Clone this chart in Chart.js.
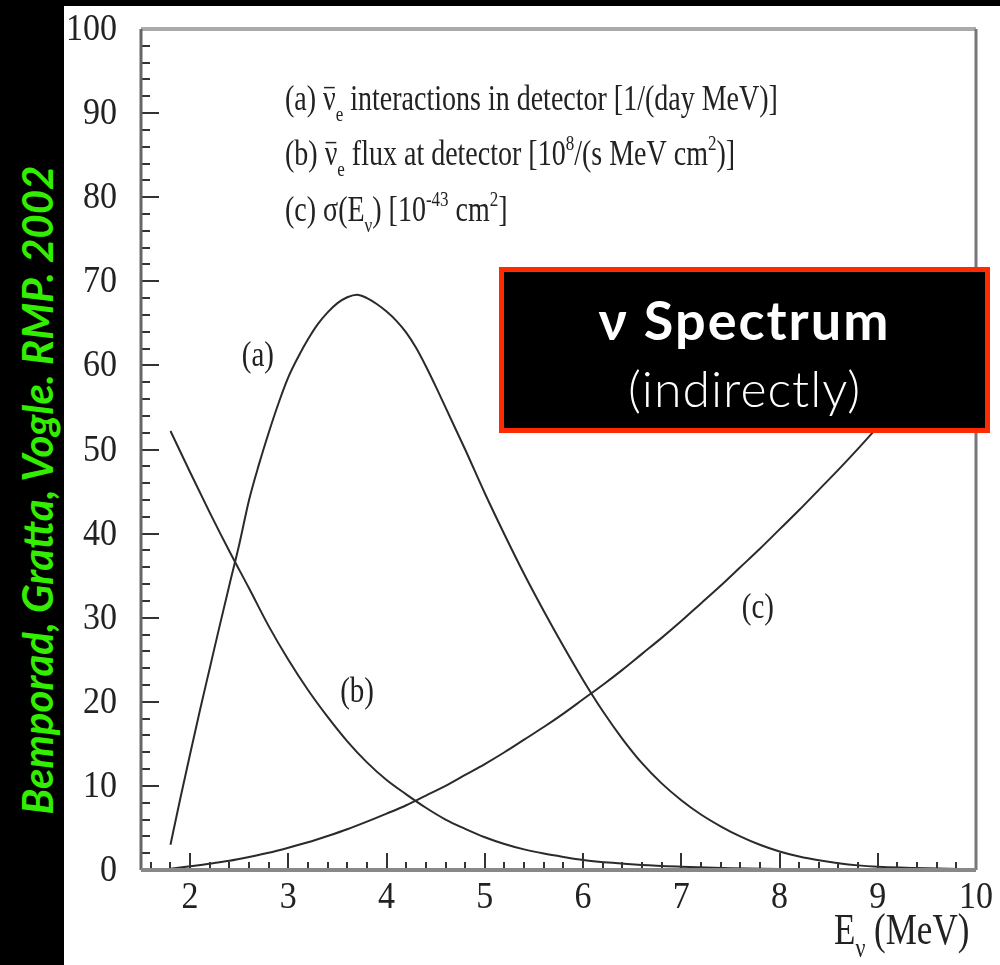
<!DOCTYPE html>
<html>
<head>
<meta charset="utf-8">
<script src="https://cdn.jsdelivr.net/npm/chart.js@4.4.1/dist/chart.umd.min.js"></script>
<style>
  html, body { margin: 0; padding: 0; background: #000; }
  body { width: 1000px; height: 965px; position: relative; overflow: hidden; }
  #plot { position: absolute; left: 64px; top: 6px; width: 936px; height: 959px; background: #fff; }
  #cite {
    position: absolute; left: 37px; top: 490px;
    transform: translate(-50%, -50%) rotate(-90deg);
    white-space: nowrap; color: #33ee00;
    font-family: Lato, "Open Sans", sans-serif; font-style: italic; font-weight: 700;
    font-size: 42px;
  }
  #tag {
    position: absolute; left: 499px; top: 267px; width: 481px; height: 156px;
    background: #000; border: 5px solid #ff2a00; color: #fff;
    font-family: Lato, "Open Sans", sans-serif; text-align: center;
  }
  #tag .t1 { font-weight: 700; font-size: 54px; letter-spacing: 2px; margin-top: 18px; line-height: 60px; }
  #tag .t2 { font-weight: 300; font-size: 50px; letter-spacing: 1px; margin-top: 8px; line-height: 60px; }
</style>
</head>
<body>
<div id="plot"><canvas id="spectrum" width="936" height="959"></canvas></div>
<div id="cite">Bemporad, Gratta, Vogle. RMP. 2002</div>
<div id="tag"><div class="t1">ν Spectrum</div><div class="t2">(indirectly)</div></div>
<script>
// neutrino energy (MeV) and the three curves
const energyA = [1.8, 1.9, 2.0, 2.1, 2.2, 2.3, 2.4, 2.5, 2.6, 2.7, 2.8, 2.9, 3.0, 3.1, 3.2, 3.3, 3.4, 3.5, 3.6, 3.7, 3.8, 3.9, 4.0, 4.1, 4.2, 4.3, 4.4, 4.5, 4.6, 4.7, 4.8, 5.0, 5.2, 5.4, 5.6, 5.8, 6.0, 6.2, 6.4, 6.6, 6.8, 7.0, 7.2, 7.4, 7.6, 7.8, 8.0, 8.2, 8.4, 8.6, 8.8, 9.0, 9.5, 10];
const interactions = [3.0, 8.5, 13.8, 19.0, 24.0, 29.0, 33.9, 38.7, 44.0, 48.2, 52.0, 55.5, 58.6, 61.0, 63.1, 64.9, 66.3, 67.4, 68.1, 68.4, 68.0, 67.3, 66.4, 65.3, 63.9, 62.1, 59.9, 57.5, 55.0, 52.5, 50.0, 44.8, 39.9, 35.2, 30.8, 26.6, 22.6, 18.9, 15.6, 12.7, 10.3, 8.3, 6.6, 5.2, 4.0, 3.0, 2.2, 1.6, 1.15, 0.8, 0.55, 0.4, 0.2, 0.1];

const energyB = [1.8, 2.0, 2.2, 2.4, 2.6, 2.8, 3.0, 3.2, 3.4, 3.6, 3.8, 4.0, 4.2, 4.4, 4.6, 4.8, 5.0, 5.2, 5.4, 5.6, 5.8, 6.0, 6.3, 6.6, 7.0, 7.5, 8.0, 9.0, 10];
const flux = [52.2, 47.3, 42.5, 37.9, 33.5, 29.0, 25.0, 21.4, 18.2, 15.3, 12.8, 10.7, 9.0, 7.4, 6.0, 4.9, 3.9, 3.1, 2.45, 1.95, 1.55, 1.2, 0.85, 0.6, 0.4, 0.22, 0.12, 0.04, 0.01];

const energyC = [1.8, 2.0, 2.2, 2.4, 2.6, 2.8, 3.0, 3.2, 3.4, 3.6, 3.8, 4.0, 4.2, 4.4, 4.6, 4.8, 5.0, 5.2, 5.4, 5.6, 5.8, 6.0, 6.2, 6.4, 6.6, 6.8, 7.0, 7.2, 7.4, 7.6, 7.8, 8.0, 8.2, 8.4, 8.6, 8.8, 9.0, 9.2, 9.4, 9.6, 9.8, 10];
const crossSection = [0.15, 0.45, 0.75, 1.1, 1.55, 2.05, 2.65, 3.3, 4.05, 4.85, 5.75, 6.7, 7.7, 8.85, 10.0, 11.3, 12.6, 14.0, 15.5, 17.0, 18.6, 20.3, 22.0, 23.8, 25.7, 27.6, 29.6, 31.7, 33.8, 36.0, 38.2, 40.5, 42.8, 45.2, 47.6, 50.1, 52.7, 55.3, 58.0, 60.7, 63.5, 66.3];

const xTicks = [2, 3, 4, 5, 6, 7, 8, 9, 10];
const yTicks = [0, 10, 20, 30, 40, 50, 60, 70, 80, 90, 100];

// curve tags in data coordinates
const curveTags = [['(a)', 2.69, 61], ['(b)', 3.70, 21], ['(c)', 7.78, 31]];

const SERIF = '"Liberation Serif", "DejaVu Serif", serif';
const INK = '#222';
const STRETCH = 1.25; // the scanned lettering is taller than it is wide

function pts(xs, ys) { return xs.map((x, i) => ({ x: x, y: ys[i] })); }

// draws text made of pieces: normal, subscript, superscript, overbar
function rich(ctx, x0, y0, parts, size, stretch) {
  ctx.save();
  ctx.translate(x0, y0);
  ctx.scale(1, stretch || STRETCH);
  let x = 0;
  parts.forEach(p => {
    const small = p.k === 'sub' || p.k === 'sup';
    ctx.font = (small ? Math.round(size * 0.62) : size) + 'px ' + SERIF;
    let dy = 0;
    if (p.k === 'sub') dy = size * 0.3;
    if (p.k === 'sup') dy = -size * 0.42;
    ctx.fillText(p.t, x, dy);
    const w = ctx.measureText(p.t).width;
    if (p.k === 'bar') {
      ctx.beginPath();
      ctx.lineWidth = 1.2;
      ctx.moveTo(x + 1, -size * 0.64);
      ctx.lineTo(x + w - 1, -size * 0.64);
      ctx.stroke();
    }
    x += w;
  });
  ctx.restore();
  return x;
}

const frame = {
  id: 'frame',
  afterDatasetsDraw(chart) {
    const ctx = chart.ctx, a = chart.chartArea;
    const xs = chart.scales.x, ys = chart.scales.y;
    ctx.save();
    ctx.strokeStyle = '#333';
    ctx.lineWidth = 2;
    // minor and major ticks pointing inward
    for (let v = 0; v <= 100; v += 2) {
      const py = Math.round(ys.getPixelForValue(v));
      const len = v % 10 === 0 ? 18 : 9;
      ctx.beginPath(); ctx.moveTo(a.left, py); ctx.lineTo(a.left + len, py); ctx.stroke();
    }
    for (let i = 8; i <= 50; i++) {
      const px = Math.round(xs.getPixelForValue(i / 5));
      const len = i % 5 === 0 ? 17 : 8;
      ctx.beginPath(); ctx.moveTo(px, a.bottom); ctx.lineTo(px, a.bottom - len); ctx.stroke();
    }
    // box
    ctx.strokeStyle = '#aaa'; ctx.lineWidth = 4;
    ctx.beginPath(); ctx.moveTo(a.left, a.top); ctx.lineTo(a.right, a.top); ctx.stroke();
    ctx.strokeStyle = '#777'; ctx.lineWidth = 3;
    ctx.beginPath(); ctx.moveTo(a.right, a.top); ctx.lineTo(a.right, a.bottom); ctx.stroke();
    ctx.strokeStyle = '#666';
    ctx.beginPath(); ctx.moveTo(a.left, a.top); ctx.lineTo(a.left, a.bottom); ctx.stroke();
    ctx.strokeStyle = '#888'; ctx.lineWidth = 4;
    ctx.beginPath(); ctx.moveTo(a.left, a.bottom); ctx.lineTo(a.right, a.bottom); ctx.stroke();

    ctx.fillStyle = INK; ctx.strokeStyle = INK;
    ctx.textBaseline = 'alphabetic'; ctx.textAlign = 'left';

    // tick labels
    ctx.font = '34px ' + SERIF;
    yTicks.forEach(v => {
      const s = String(v), w = ctx.measureText(s).width;
      rich(ctx, a.left - 24 - w, ys.getPixelForValue(v) + 11, [{ t: s }], 34, 1.1);
    });
    xTicks.forEach(v => {
      const s = String(v), w = ctx.measureText(s).width;
      rich(ctx, xs.getPixelForValue(v) - w / 2, a.bottom + 38, [{ t: s }], 34, 1.1);
    });

    // legend
    const lx = 221, fs = 28;
    rich(ctx, lx, 104, [{ t: '(a) ' }, { t: 'ν', k: 'bar' }, { t: 'e', k: 'sub' }, { t: ' interactions in detector [1/(day MeV)]' }], fs);
    rich(ctx, lx, 159, [{ t: '(b) ' }, { t: 'ν', k: 'bar' }, { t: 'e', k: 'sub' }, { t: ' flux at detector [10' }, { t: '8', k: 'sup' }, { t: '/(s MeV cm' }, { t: '2', k: 'sup' }, { t: ')]' }], fs);
    rich(ctx, lx, 215, [{ t: '(c) σ(E' }, { t: 'ν', k: 'sub' }, { t: ') [10' }, { t: '-43', k: 'sup' }, { t: ' cm' }, { t: '2', k: 'sup' }, { t: ']' }], fs);

    // curve tags
    curveTags.forEach(t => {
      ctx.font = '29px ' + SERIF;
      const w = ctx.measureText(t[0]).width;
      rich(ctx, xs.getPixelForValue(t[1]) - w / 2, ys.getPixelForValue(t[2]) + 9, [{ t: t[0] }], 29);
    });

    // x axis title
    rich(ctx, 770, 938, [{ t: 'E' }, { t: 'ν', k: 'sub' }, { t: ' (MeV)' }], 35);
    ctx.restore();
  }
};

const line = { borderColor: '#2a2a2a', borderWidth: 2, pointRadius: 0, fill: false, cubicInterpolationMode: 'monotone' };

new Chart(document.getElementById('spectrum'), {
  type: 'line',
  data: {
    datasets: [
      Object.assign({ label: '(a)', data: pts(energyA, interactions) }, line),
      Object.assign({ label: '(b)', data: pts(energyB, flux) }, line),
      Object.assign({ label: '(c)', data: pts(energyC, crossSection) }, line)
    ]
  },
  options: {
    responsive: false,
    animation: false,
    events: [],
    layout: { autoPadding: false, padding: { top: 23, right: 24, left: 0, bottom: 0 } },
    plugins: { legend: { display: false }, tooltip: { enabled: false } },
    scales: {
      x: {
        type: 'linear', min: 1.5, max: 10,
        afterFit: s => { s.height = 95; },
        grid: { display: false, drawTicks: false },
        border: { display: false },
        ticks: { display: false }
      },
      y: {
        min: 0, max: 100,
        afterFit: s => { s.width = 77; },
        grid: { display: false, drawTicks: false },
        border: { display: false },
        ticks: { display: false }
      }
    }
  },
  plugins: [frame]
});
</script>
</body>
</html>
